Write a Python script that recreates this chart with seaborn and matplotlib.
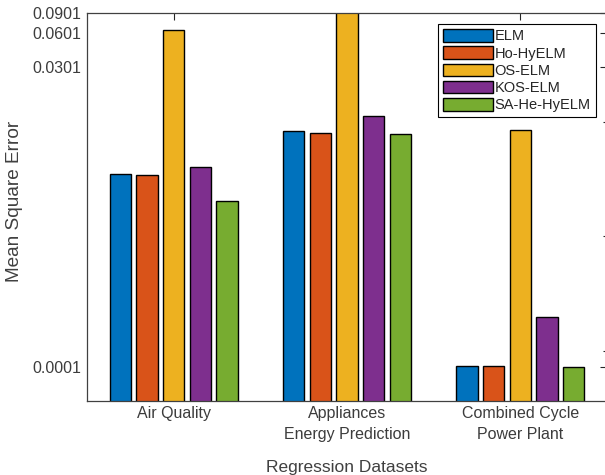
import numpy as np
import pandas as pd
import matplotlib
matplotlib.use('Agg')
import matplotlib.pyplot as plt
import matplotlib.ticker as mticker
import seaborn as sns

# Data (log-scale MSE values)
datasets = ['Air Quality', 'Appliances\nEnergy Prediction', 'Combined Cycle\nPower Plant']
methods = ['ELM', 'Ho-HyELM', 'OS-ELM', 'KOS-ELM', 'SA-He-HyELM']
elm = [3.55e-3, 8.44e-3, 7.32e-5]
ho_hyelm = [3.46e-3, 8.05e-3, 7.32e-5]
os_elm = [6.34e-2, 1.2e-1, 8.6e-3]
kos_elm = [4.08e-3, 1.133e-2, 1.96e-4]
sa_he_hyelm = [2.03e-3, 7.88e-3, 7.25e-5]
ytick_vals = [0.000072, 0.030072, 0.060072, 0.090072]

colors = ['#0072BD', '#D95319', '#EDB120', '#7E2F8E', '#77AC30']

df = pd.DataFrame({
    'dataset': np.repeat(datasets, len(methods)),
    'method': methods * len(datasets),
    'mse': np.array([elm, ho_hyelm, os_elm, kos_elm, sa_he_hyelm]).T.ravel(),
})

sns.set_style('white')
plt.rcParams['font.family'] = ['Liberation Sans', 'DejaVu Sans']

fig = plt.figure(figsize=(6.05, 4.75), dpi=100)
ax = fig.add_axes([87 / 605, 74.3 / 475, 520 / 605, 387.7 / 475])

sns.barplot(data=df, x='dataset', y='mse', hue='method', hue_order=methods,
            palette=colors, width=0.769, gap=0.2, edgecolor='black',
            linewidth=1, errorbar=None, saturation=1, ax=ax)

ax.set_yscale('log')
ax.set_ylim(3.65e-5, 0.0901)
ax.set_xlim(-0.5, 2.5)

ax.yaxis.set_major_locator(mticker.FixedLocator(ytick_vals))
ax.yaxis.set_major_formatter(mticker.FixedFormatter(['%.4f' % v for v in ytick_vals]))
ax.yaxis.set_minor_locator(mticker.FixedLocator([1e-4, 1e-3, 1e-2]))
ax.yaxis.set_minor_formatter(mticker.NullFormatter())

text_c = '#3c3c3c'
ax.tick_params(axis='both', which='both', direction='in', top=True, right=True,
               colors='#262626', labelcolor=text_c, labelsize=11.5, width=0.8)
ax.tick_params(axis='both', which='major', length=5, pad=4)
ax.tick_params(axis='y', which='minor', length=3)
for lbl in ax.get_xticklabels():
    lbl.set_linespacing(1.45)
for s in ax.spines.values():
    s.set_color('#404040')
    s.set_linewidth(0.9)

ax.set_xlabel('Regression Datasets', fontsize=12.5, color='#404040', labelpad=13)
ax.set_ylabel('Mean Square Error', fontsize=13.7, color='#404040')
ax.yaxis.set_label_coords(-0.123, 0.515)

handles, labels = ax.get_legend_handles_labels()
ax.legend(handles, labels, loc='upper right', bbox_to_anchor=(0.978, 0.9716),
          borderaxespad=0, fontsize=10.5, fancybox=False, framealpha=1,
          edgecolor='black', handlelength=3.4, handleheight=0.95,
          handletextpad=0.12, labelspacing=0.2, borderpad=0.35)
ax.get_legend().get_frame().set_linewidth(0.8)

fig.savefig('out.png', dpi=100)
